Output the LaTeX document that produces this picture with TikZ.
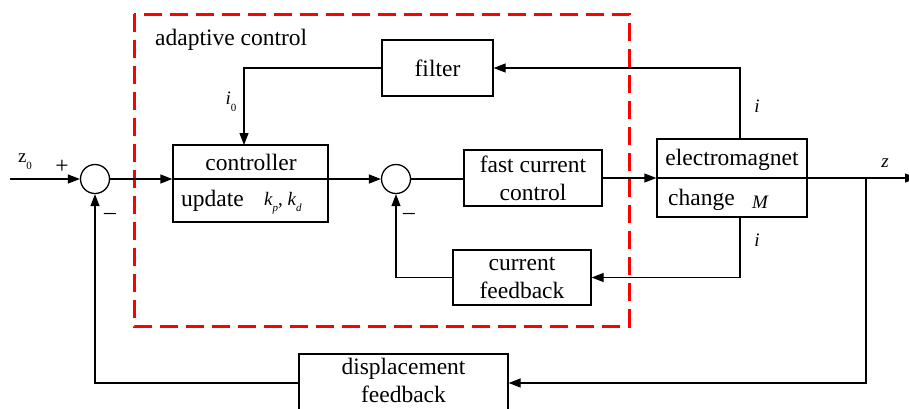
\documentclass[tikz,border=0pt]{standalone}
\usepackage{fontspec}
\setmainfont{Liberation Serif}
\usetikzlibrary{arrows.meta}
\newcommand\lowsub[1]{\raisebox{-0.35em}{\fontsize{11}{11}\selectfont #1}}
\begin{document}
\begin{tikzpicture}[x=1pt,y=-1pt,
  every node/.style={font=\fontsize{23.5}{28}\selectfont},
  blk/.style={draw,line width=1.3pt,minimum width=#1,inner sep=0pt,align=center},
  sumj/.style={draw,circle,line width=1.3pt,minimum size=29pt,inner sep=0pt},
  conn/.style={line width=1.3pt},
  arr/.style={line width=1.3pt,-{Triangle[length=12pt,width=9pt]}},
  lbl/.style={font=\fontsize{19}{20}\selectfont\itshape,inner sep=0pt},
  redbox/.style={draw=red,line width=3pt,dash pattern=on 18pt off 8pt}
]
\clip (0,0) rectangle (909,408);
\fill[white] (0,0) rectangle (909,408);

% red dashed adaptive region
\draw[redbox] (134,14) rectangle (629,326);
\node[anchor=west,inner sep=0pt] (adlbl) at (155,40) {adaptive control};

% junctions
\node[sumj] (s1) at (95,179) {};
\node[sumj] (s2) at (396,179) {};

% boxes
\node[blk=155pt,minimum height=77pt] (ctrl) at (250.5,183.5) {};
\draw[conn] (ctrl.west |- 0,179) -- (ctrl.east |- 0,179);
\node (ctrlt) at (251,162) {controller};
\node[anchor=west,inner sep=0pt] (upd) at (181,201) {update};
\node[anchor=west,inner sep=0pt] (kpkd) at (264,203) {\fontsize{19}{20}\selectfont\itshape k\lowsub{p}\upshape, \itshape k\lowsub{d}};

\node[blk=138pt,minimum height=56pt] (fcc) at (533,178) {fast current\\control};

\node[blk=150pt,minimum height=78pt] (em) at (732,178) {};
\draw[conn] (em.west |- 0,178) -- (em.east |- 0,178);
\node (emt) at (732,160) {electromagnet};
\node[anchor=west,inner sep=0pt] (chg) at (668,200) {change};
\node[anchor=west,inner sep=0pt] (mm) at (752,202) {\fontsize{19}{20}\selectfont\itshape M};

\node[blk=111pt,minimum height=56pt] (filt) at (437.5,68) {filter};
\node[blk=138pt,minimum height=55pt] (cfb) at (522,277.5) {current\\feedback};
\node[blk=209pt,minimum height=58pt] (dfb) at (403.5,383) {};
\node[align=center,inner sep=0pt] (dfbt) at (403.5,380) {displacement\\feedback};

% coordinates
\coordinate (in) at (10,179);
\coordinate (out) at (917,178);
\coordinate (tap) at (866,178);
\coordinate (emtop) at (740,139);
\coordinate (embot) at (740,217);

% main path
\draw[arr] (in) -- (s1.west);
\draw[arr] (s1.east) -- (ctrl.west |- 0,179);
\draw[arr] (ctrl.east |- 0,179) -- (s2.west);
\draw[conn] (s2.east) -- (fcc.west |- s2);
\draw[arr] (fcc.east) -- (em.west);
\draw[arr] (em.east) -- (out);

% filter loop
\draw[arr] (emtop) -- (emtop |- filt) -- (filt.east);
\draw[arr] (filt.west) -- (244,68) -- (244,145);

% current feedback loop
\draw[arr] (embot) -- (embot |- cfb) -- (cfb.east);
\draw[arr] (cfb.west) -- (s2.south |- cfb) -- (s2.south);

% displacement feedback
\draw[arr] (tap) -- (tap |- dfb) -- (dfb.east);
\draw[arr] (dfb.west) -- (s1.south |- dfb) -- (s1.south);

% labels
\node[lbl] (z0) at (25,162) {\upshape z\lowsub{0}};
\node[inner sep=0pt] (plus) at (62,167) {+};
\node[inner sep=0pt] (m1) at (110,216) {\textendash};
\node[inner sep=0pt] (m2) at (409,216) {\textendash};
\node[lbl] (i0) at (231,102) {i\lowsub{\upshape 0}};
\node[lbl] (itop) at (757,106) {i};
\node[lbl] (ibot) at (757,240) {i};
\node[lbl] (zl) at (885,163) {z};
\end{tikzpicture}
\end{document}
